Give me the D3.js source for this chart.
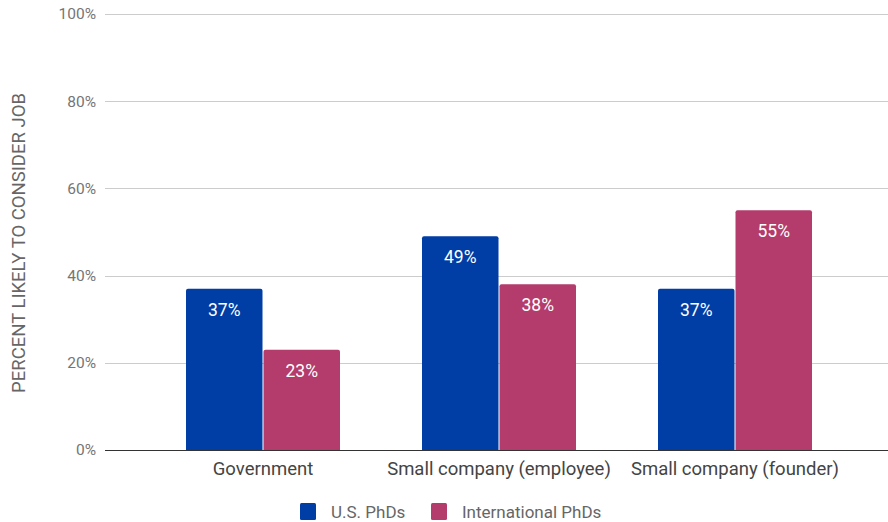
<!DOCTYPE html>
<html>
<head>
<meta charset="utf-8">
<script src="https://cdn.jsdelivr.net/npm/d3@7"></script>
<style>
  html, body { margin: 0; padding: 0; background: #fff; }
  svg { display: block; font-family: Roboto, "Noto Sans", sans-serif; }
</style>
</head>
<body>
<svg id="chart" width="888" height="522"></svg>
<script>
// Share of PhDs who would consider each job type
const categories = ["Government", "Small company (employee)", "Small company (founder)"];
const seriesNames = ["U.S. PhDs", "International PhDs"];
const usValues = [37, 49, 37];
const intlValues = [23, 38, 55];
const yTicks = [0, 20, 40, 60, 80, 100];
const colors = ["#003da5", "#b43c6c"];

const svg = d3.select("#chart");
const plot = { left: 105, right: 888, top: 14, bottom: 450 };

const y = d3.scaleLinear().domain([0, 100]).range([plot.bottom, plot.top]);
const x0 = d3.scaleBand().domain(categories).range([145, 853]).paddingInner(0).paddingOuter(0);
const x1 = d3.scaleBand().domain(seriesNames).range([x0.bandwidth() / 2 - 77, x0.bandwidth() / 2 + 77]).paddingInner(0.013);

// Horizontal gridlines
svg.append("g")
  .selectAll("line")
  .data(yTicks.filter(d => d > 0))
  .join("line")
  .attr("x1", plot.left).attr("x2", plot.right)
  .attr("y1", d => Math.round(y(d)) + 0.5).attr("y2", d => Math.round(y(d)) + 0.5)
  .attr("stroke", "#cccccc").attr("stroke-width", 1);

// Y axis tick labels
const yAxis = d3.axisLeft(y).tickValues(yTicks).tickFormat(d => d + "%").tickSize(0).tickPadding(0);
const gy = svg.append("g").attr("transform", `translate(96,0)`).call(yAxis);
gy.select(".domain").remove();
gy.selectAll("text")
  .attr("fill", "#757575").attr("font-size", 15.5).attr("font-family", "Roboto, sans-serif");

// Y axis title
svg.append("text")
  .attr("transform", `translate(25,${(plot.top + plot.bottom) / 2 + 11}) rotate(-90)`)
  .attr("text-anchor", "middle")
  .attr("fill", "#666")
  .attr("font-size", 18.5)
  .text("PERCENT LIKELY TO CONSIDER JOB");

// Bars
const rows = categories.map((c, i) => ({ cat: c, vals: [usValues[i], intlValues[i]] }));

function topRounded(xp, yp, w, h, r) {
  return `M${xp},${yp + h}V${yp + r}Q${xp},${yp} ${xp + r},${yp}H${xp + w - r}Q${xp + w},${yp} ${xp + w},${yp + r}V${yp + h}Z`;
}

const groups = svg.append("g")
  .selectAll("g")
  .data(rows)
  .join("g")
  .attr("transform", d => `translate(${x0(d.cat)},0)`);

groups.selectAll("path")
  .data(d => d.vals.map((v, j) => ({ v, s: seriesNames[j], j })))
  .join("path")
  .attr("d", d => topRounded(x1(d.s), y(d.v), x1.bandwidth(), plot.bottom - y(d.v), 2))
  .attr("fill", d => colors[d.j]);

groups.selectAll("text")
  .data(d => d.vals.map((v, j) => ({ v, s: seriesNames[j], j })))
  .join("text")
  .attr("x", d => x1(d.s) + x1.bandwidth() / 2)
  .attr("y", d => y(d.v) + 27)
  .attr("text-anchor", "middle")
  .attr("fill", "#fff")
  .attr("font-size", 17.5)
  .text(d => d.v + "%");

// Baseline
svg.append("line")
  .attr("x1", plot.left).attr("x2", plot.right)
  .attr("y1", plot.bottom + 0.5).attr("y2", plot.bottom + 0.5)
  .attr("stroke", "#333").attr("stroke-width", 1.2);

// Category labels
const xAxis = d3.axisBottom(x0).tickSize(0).tickPadding(0);
const gx = svg.append("g").attr("transform", `translate(0,${plot.bottom + 12})`).call(xAxis);
gx.select(".domain").remove();
gx.selectAll("text")
  .attr("fill", "#444").attr("font-size", 18.5).attr("font-family", "Roboto, sans-serif");

// Legend
const legendX = [300, 431];
const legend = svg.append("g")
  .selectAll("g")
  .data(seriesNames)
  .join("g")
  .attr("transform", (d, i) => `translate(${legendX[i]},503)`);
legend.append("rect")
  .attr("width", 16).attr("height", 17).attr("rx", 1.5)
  .attr("fill", (d, i) => colors[i]);
legend.append("text")
  .attr("x", 31).attr("y", 15)
  .attr("fill", "#666").attr("font-size", 17)
  .text(d => d);
</script>
</body>
</html>
